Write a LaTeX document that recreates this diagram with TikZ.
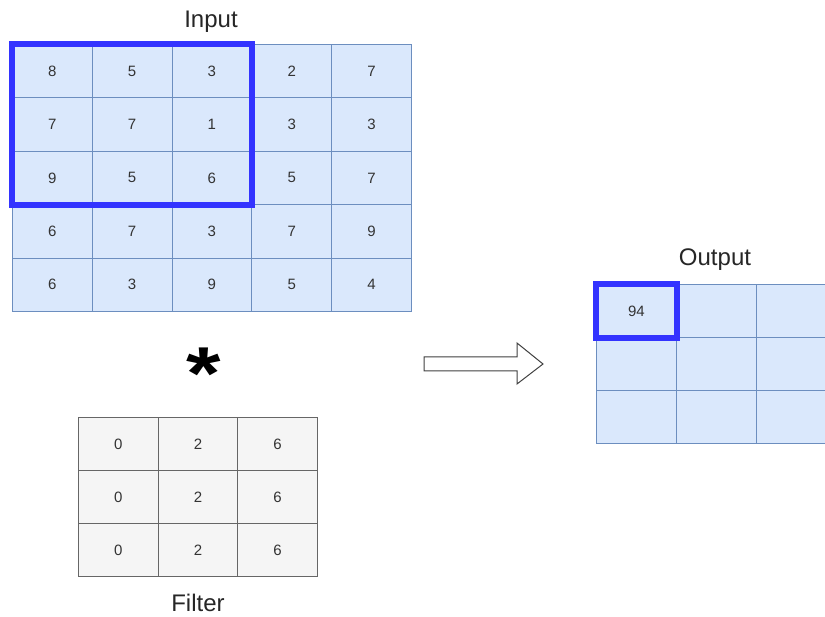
\documentclass[tikz,border=0pt]{standalone}
\usepackage{fontspec}
\setmainfont{Liberation Sans}
\usetikzlibrary{positioning}
\definecolor{cellfill}{HTML}{DAE8FC}
\definecolor{cellline}{HTML}{6C8EBF}
\definecolor{filtfill}{HTML}{F5F5F5}
\definecolor{filtline}{HTML}{666666}
\definecolor{hilite}{HTML}{3333FF}
\definecolor{txt}{HTML}{333333}
\begin{document}
\begin{tikzpicture}[x=1pt,y=-1pt,
  incell/.style={draw=cellline,fill=cellfill,line width=0.8pt,minimum width=79.8pt,minimum height=53.4pt,inner sep=0pt,anchor=north west,font=\fontsize{15}{17}\selectfont,text=txt},
  outcell/.style={draw=cellline,fill=cellfill,line width=0.8pt,minimum width=80pt,minimum height=53pt,inner sep=0pt,anchor=north west,font=\fontsize{15}{17}\selectfont,text=txt},
  fcell/.style={draw=filtline,fill=filtfill,line width=0.8pt,minimum width=79.7pt,minimum height=53pt,inner sep=0pt,anchor=north west,font=\fontsize{15}{17}\selectfont,text=txt},
  hbox/.style={draw=hilite,line width=6pt},
  title/.style={font=\fontsize{24}{28}\selectfont,text=black!85}
]
\useasboundingbox (0,0) rectangle (825,617);
\begin{scope}
\clip (0,0) rectangle (825,617);
% input grid
\foreach \row [count=\r] in {{8,5,3,2,7},{7,7,1,3,3},{9,5,6,5,7},{6,7,3,7,9},{6,3,9,5,4}} {
  \foreach \v [count=\c] in \row {
    \node[incell] (in-\r-\c) at ({12+(\c-1)*79.8},{44+(\r-1)*53.4}) {\v};
  }
}
% output grid
\foreach \r in {1,2,3} {
  \foreach \c in {1,2,3} {
    \node[outcell] (out-\r-\c) at ({596+(\c-1)*80},{284+(\r-1)*53}) {};
  }
}
\node[font=\fontsize{15}{17}\selectfont,text=txt] (v94) at (out-1-1.center) {94};
% filter grid
\foreach \r in {1,2,3} {
  \foreach \v [count=\c] in {0,2,6} {
    \node[fcell] (f-\r-\c) at ({78+(\c-1)*79.7},{417+(\r-1)*53}) {\v};
  }
}
% highlights
\draw[hbox] (in-1-1.north west) rectangle (in-3-3.south east);
\draw[hbox] (out-1-1.north west) rectangle (out-1-1.south east);
\end{scope}
% titles
\node[title] (tin) at (211,22) {Input};
\node[title] (tout) at (715,260) {Output};
\node[title] (tfil) at (198,603) {Filter};
% asterisk
\node[font=\fontsize{75}{75}\selectfont\bfseries,anchor=base,inner sep=0pt,text depth=0pt,xscale=1.18] (star) at (203.5,400) {*};
% arrow
\coordinate (a1) at (424,357);
\draw[draw=black!75,fill=white,line width=1pt,line join=miter]
  (a1) -- (517,357) -- (517,343) -- (543,364) -- (517,384) -- (517,371) -- (424,371) -- cycle;
\end{tikzpicture}
\end{document}
